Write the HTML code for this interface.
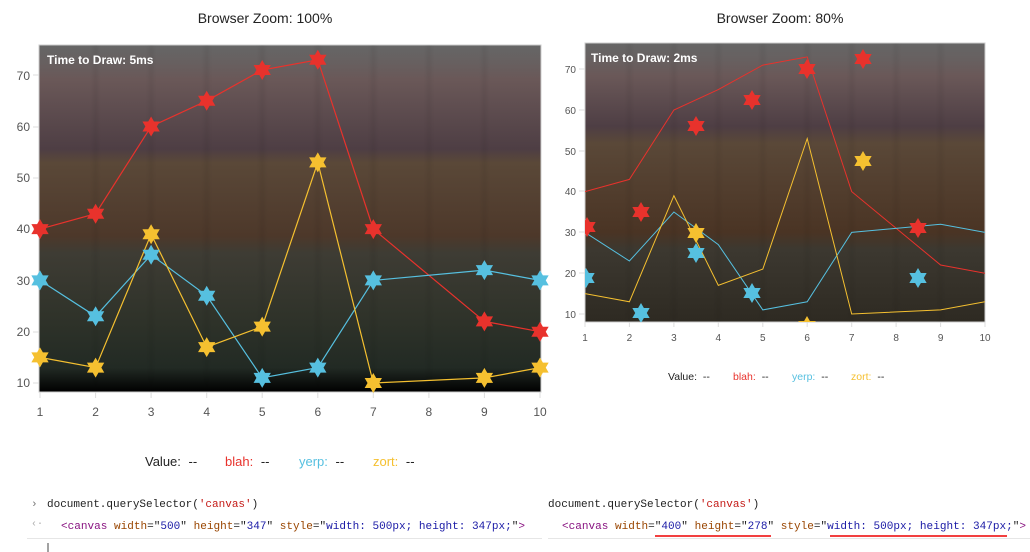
<!DOCTYPE html>
<html><head><meta charset="utf-8"><style>
body{margin:0;background:#fff;width:1030px;height:552px;overflow:hidden;font-family:"Liberation Sans",sans-serif}
svg{position:absolute;left:0;top:0}
</style></head><body>
<svg width="1030" height="552" viewBox="0 0 1030 552" xmlns="http://www.w3.org/2000/svg">
<defs>
<linearGradient id="bgL" x1="0" y1="0" x2="0" y2="1">
<stop offset="0" stop-color="#666"/><stop offset="0.05" stop-color="#676060"/><stop offset="0.1" stop-color="#6a5858"/>
<stop offset="0.3" stop-color="#4e3e44"/><stop offset="0.34" stop-color="#5a4838"/><stop offset="0.55" stop-color="#4d382a"/>
<stop offset="0.6" stop-color="#3e3c34"/><stop offset="0.8" stop-color="#2e3229"/><stop offset="0.93" stop-color="#222a24"/>
<stop offset="1" stop-color="#000"/>
</linearGradient>
<linearGradient id="bgR" x1="0" y1="0" x2="0" y2="1">
<stop offset="0" stop-color="#666"/><stop offset="0.06" stop-color="#676060"/><stop offset="0.12" stop-color="#6a5858"/>
<stop offset="0.3" stop-color="#4e3e44"/><stop offset="0.36" stop-color="#5a4838"/><stop offset="0.68" stop-color="#4a3424"/>
<stop offset="0.74" stop-color="#3c3830"/><stop offset="1" stop-color="#2e2a22"/>
</linearGradient>
<filter id="bl"><feGaussianBlur stdDeviation="2"/></filter>
<path id="st" d="M0,-10 L8.66,5 L-8.66,5 Z M0,10 L-8.66,-5 L8.66,-5 Z"/>
<clipPath id="cL"><rect x="39" y="45" width="502" height="347"/></clipPath>
<clipPath id="cR"><rect x="585" y="43" width="400" height="279"/></clipPath>
</defs>
<text x="265" y="23" font-size="14" text-anchor="middle" fill="#222">Browser Zoom: 100%</text>
<text x="780" y="23" font-size="14" text-anchor="middle" fill="#222">Browser Zoom: 80%</text>

<!-- LEFT -->
<rect x="39" y="45" width="502" height="347" fill="url(#bgL)" stroke="#ccc"/>
<g clip-path="url(#cL)" filter="url(#bl)" stroke="rgba(0,0,0,0.08)" stroke-width="4">
<path d="M95.6 45V392M151.1 45V392M206.7 45V392M262.2 45V392M317.8 45V392M373.3 45V392M428.9 45V392M484.4 45V392"/>
</g>
<g font-size="12" fill="#555" text-anchor="end">
<text x="30" y="387">10</text><text x="30" y="336">20</text><text x="30" y="285">30</text><text x="30" y="233">40</text><text x="30" y="182">50</text><text x="30" y="131">60</text><text x="30" y="80">70</text>
</g>
<g stroke="#ddd"><path d="M33 383H39M33 332H39M33 280H39M33 229H39M33 178H39M33 127H39M33 75H39"/>
<path d="M40 392V398M95.6 392V398M151.1 392V398M206.7 392V398M262.2 392V398M317.8 392V398M373.3 392V398M428.9 392V398M484.4 392V398M540 392V398"/></g>
<g font-size="12" fill="#555" text-anchor="middle">
<text x="40" y="416">1</text><text x="95.6" y="416">2</text><text x="151.1" y="416">3</text><text x="206.7" y="416">4</text><text x="262.2" y="416">5</text><text x="317.8" y="416">6</text><text x="373.3" y="416">7</text><text x="428.9" y="416">8</text><text x="484.4" y="416">9</text><text x="540" y="416">10</text>
</g>
<text x="47" y="64" font-size="12" font-weight="bold" fill="#fff">Time to Draw: 5ms</text>
<g clip-path="url(#cL)" fill="none" stroke-width="1.2">
<polyline stroke="#e8322c" points="40,229.1 95.6,213.7 151.1,126.5 206.7,100.8 262.2,70 317.8,59.8 373.3,229.1 484.4,321.4 540,331.7"/>
<polyline stroke="#56c0e0" points="40,280.4 95.6,316.3 151.1,254.8 206.7,295.7 262.2,377.9 317.8,367.6 373.3,280.4 484.4,270.1 540,280.4"/>
<polyline stroke="#f5c030" points="40,357.4 95.6,367.6 151.1,234.2 206.7,347.1 262.2,326.6 317.8,162.4 373.3,383 484.4,377.9 540,367.6"/>
</g>
<g fill="#e8322c">
<use href="#st" x="40" y="229.1"/><use href="#st" x="95.6" y="213.7"/><use href="#st" x="151.1" y="126.5"/><use href="#st" x="206.7" y="100.8"/><use href="#st" x="262.2" y="70"/><use href="#st" x="317.8" y="59.8"/><use href="#st" x="373.3" y="229.1"/><use href="#st" x="484.4" y="321.4"/><use href="#st" x="540" y="331.7"/>
</g>
<g fill="#56c0e0">
<use href="#st" x="40" y="280.4"/><use href="#st" x="95.6" y="316.3"/><use href="#st" x="151.1" y="254.8"/><use href="#st" x="206.7" y="295.7"/><use href="#st" x="262.2" y="377.9"/><use href="#st" x="317.8" y="367.6"/><use href="#st" x="373.3" y="280.4"/><use href="#st" x="484.4" y="270.1"/><use href="#st" x="540" y="280.4"/>
</g>
<g fill="#f5c030">
<use href="#st" x="40" y="357.4"/><use href="#st" x="95.6" y="367.6"/><use href="#st" x="151.1" y="234.2"/><use href="#st" x="206.7" y="347.1"/><use href="#st" x="262.2" y="326.6"/><use href="#st" x="317.8" y="162.4"/><use href="#st" x="373.3" y="383"/><use href="#st" x="484.4" y="377.9"/><use href="#st" x="540" y="367.6"/>
</g>
<g font-size="13">
<text x="145" y="466" fill="#222">Value: <tspan dx="4">--</tspan></text>
<text x="225" y="466" fill="#e8322c">blah: <tspan fill="#222" dx="4">--</tspan></text>
<text x="299" y="466" fill="#56c0e0">yerp: <tspan fill="#222" dx="4">--</tspan></text>
<text x="373" y="466" fill="#f5c030">zort: <tspan fill="#222" dx="4">--</tspan></text>
</g>

<!-- RIGHT -->
<rect x="585" y="43" width="400" height="279" fill="url(#bgR)" stroke="#ccc"/>
<g clip-path="url(#cR)" filter="url(#bl)" stroke="rgba(0,0,0,0.08)" stroke-width="3.5">
<path d="M629.4 43V322M673.9 43V322M718.3 43V322M762.8 43V322M807.2 43V322M851.7 43V322M896.1 43V322M940.6 43V322"/>
</g>
<g font-size="10" fill="#555" text-anchor="end">
<text x="576" y="318">10</text><text x="576" y="277">20</text><text x="576" y="236">30</text><text x="576" y="195">40</text><text x="576" y="155">50</text><text x="576" y="114">60</text><text x="576" y="73">70</text>
</g>
<g stroke="#ddd"><path d="M579 314H585M579 273H585M579 232H585M579 191H585M579 151H585M579 110H585M579 69H585"/>
<path d="M585 322V327M629.4 322V327M673.9 322V327M718.3 322V327M762.8 322V327M807.2 322V327M851.7 322V327M896.1 322V327M940.6 322V327M985 322V327"/></g>
<g font-size="10" fill="#555" text-anchor="middle">
<text x="585" y="341">1</text><text x="629.4" y="341">2</text><text x="673.9" y="341">3</text><text x="718.3" y="341">4</text><text x="762.8" y="341">5</text><text x="807.2" y="341">6</text><text x="851.7" y="341">7</text><text x="896.1" y="341">8</text><text x="940.6" y="341">9</text><text x="985" y="341">10</text>
</g>
<text x="591" y="62" font-size="12" font-weight="bold" fill="#fff">Time to Draw: 2ms</text>
<g clip-path="url(#cR)" fill="none" stroke-width="1">
<polyline stroke="#e8322c" points="585,191.6 629.4,179.4 673.9,110 718.3,89.6 762.8,65.1 807.2,56.9 851.7,191.6 940.6,265 985,273.2"/>
<polyline stroke="#56c0e0" points="585,232.4 629.4,261 673.9,212 718.3,244.6 762.8,309.9 807.2,301.8 851.7,232.4 940.6,224.2 985,232.4"/>
<polyline stroke="#f5c030" points="585,293.6 629.4,301.8 673.9,195.7 718.3,285.4 762.8,269.1 807.2,138.6 851.7,314 940.6,309.9 985,301.8"/>
</g>
<g clip-path="url(#cR)">
<g fill="#e8322c">
<use href="#st" x="587" y="227"/><use href="#st" x="641" y="212"/><use href="#st" x="696" y="126"/><use href="#st" x="752" y="100"/><use href="#st" x="807" y="69"/><use href="#st" x="863" y="59"/><use href="#st" x="918" y="228"/>
</g>
<g fill="#56c0e0">
<use href="#st" x="586" y="278"/><use href="#st" x="641" y="313"/><use href="#st" x="696" y="253"/><use href="#st" x="752" y="293"/><use href="#st" x="918" y="278"/>
</g>
<g fill="#f5c030">
<use href="#st" x="696" y="233"/><use href="#st" x="807" y="326"/><use href="#st" x="863" y="161"/>
</g>
</g>
<g font-size="10.5">
<text x="668" y="380" fill="#222">Value: <tspan dx="3">--</tspan></text>
<text x="733" y="380" fill="#e8322c">blah: <tspan fill="#222" dx="3">--</tspan></text>
<text x="792" y="380" fill="#56c0e0">yerp: <tspan fill="#222" dx="3">--</tspan></text>
<text x="851" y="380" fill="#f5c030">zort: <tspan fill="#222" dx="3">--</tspan></text>
</g>

<!-- console -->
<g font-family="Liberation Mono, monospace" font-size="11">
<text x="31" y="507" fill="#777">›</text>
<text x="47" y="507" fill="#222">document.querySelector(<tspan fill="#c41a16">'canvas'</tspan>)</text>
<text x="548" y="507" fill="#222">document.querySelector(<tspan fill="#c41a16">'canvas'</tspan>)</text>
<text x="31" y="526" fill="#aaa" font-size="10">‹·</text>
</g>
<g font-family="Liberation Mono, monospace" font-size="11">
<text x="61" y="529" fill="#881280" textLength="464" lengthAdjust="spacingAndGlyphs">&lt;canvas <tspan fill="#994500">width</tspan><tspan fill="#222">="</tspan><tspan fill="#1a1aa6">500</tspan><tspan fill="#222">"</tspan> <tspan fill="#994500">height</tspan><tspan fill="#222">="</tspan><tspan fill="#1a1aa6">347</tspan><tspan fill="#222">"</tspan> <tspan fill="#994500">style</tspan><tspan fill="#222">="</tspan><tspan fill="#1a1aa6">width: 500px; height: 347px;</tspan><tspan fill="#222">"</tspan>&gt;</text>
<text x="562" y="529" fill="#881280" textLength="464" lengthAdjust="spacingAndGlyphs">&lt;canvas <tspan fill="#994500">width</tspan><tspan fill="#222">="</tspan><tspan fill="#1a1aa6">400</tspan><tspan fill="#222">"</tspan> <tspan fill="#994500">height</tspan><tspan fill="#222">="</tspan><tspan fill="#1a1aa6">278</tspan><tspan fill="#222">"</tspan> <tspan fill="#994500">style</tspan><tspan fill="#222">="</tspan><tspan fill="#1a1aa6">width: 500px; height: 347px;</tspan><tspan fill="#222">"</tspan>&gt;</text>
</g>
<path d="M27 538.5H542M548 538.5H1030" stroke="#e6e6e6"/>
<path d="M655 536H771M830 536H1007" stroke="#e00" stroke-width="1.5"/>
<path d="M48 543V552" stroke="#444"/>
</svg>
</body></html>
